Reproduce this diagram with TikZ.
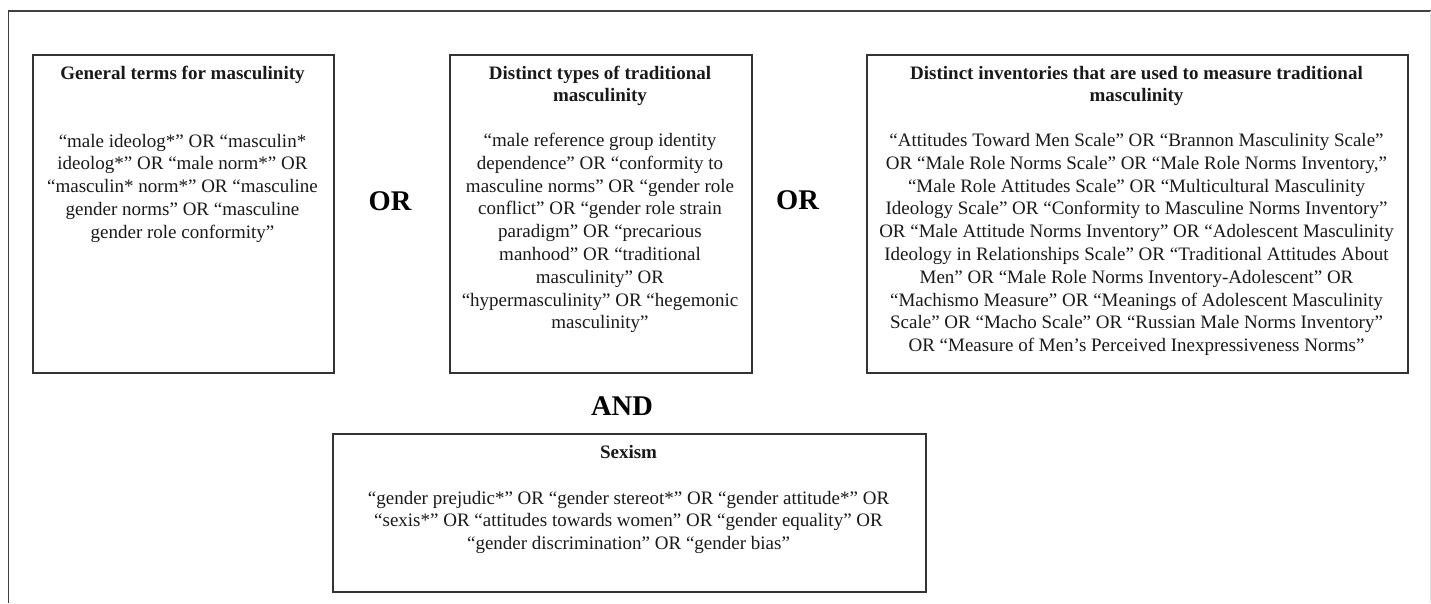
\documentclass[tikz,border=0pt]{standalone}
\usepackage{fontspec}
\setmainfont{Liberation Serif}
\begin{document}
\begin{tikzpicture}[x=1pt,y=-1pt,
  box/.style={draw=black!80, line width=1.6pt, anchor=north west, inner sep=0pt},
  txt/.style={align=center, anchor=base, inner sep=0pt, text=black!90,
    font=\fontsize{19}{22.8}\selectfont},
  ttl/.style={txt, font=\fontsize{19}{22.8}\selectfont\bfseries},
  op/.style={anchor=base, inner sep=0pt, text=black, font=\fontsize{28.5}{32}\selectfont\bfseries}]
\useasboundingbox (0,0) rectangle (1431,603);
% outer frame
\coordinate (fbl) at (8.5,603);
\coordinate (ftl) at (8.5,11);
\coordinate (ftr) at (1431,11);
\draw[black!75, line width=1.8pt] (fbl) -- (ftl) -- (ftr);
\draw[black!12, line width=1pt] (1430.5,11) -- (1430.5,603);
% boxes
\node[box, minimum width=301pt, minimum height=318pt] (b1) at (32,54) {};
\node[box, minimum width=302pt, minimum height=318pt] (b2) at (449,54) {};
\node[box, minimum width=541pt, minimum height=318pt] (b3) at (866,54) {};
\node[box, minimum width=593pt, minimum height=158pt] (b4) at (332,433) {};
% titles (anchor = baseline of last line)
\node[ttl] (t1) at (182.5,79) {General terms for masculinity};
\node[ttl] (t2) at (600,101.8) {Distinct types of traditional\\masculinity};
\node[ttl] (t3) at (1136.5,101.8) {Distinct inventories that are used to measure traditional\\masculinity};
\node[ttl] (t4) at (628.5,458) {Sexism};
% bodies (anchor = baseline of last line)
\node[txt] (c1) at (182.5,238.2) {“male ideolog*” OR “masculin*\\ideolog*” OR “male norm*” OR\\“masculin* norm*” OR “masculine\\gender norms” OR “masculine\\gender role conformity”};
\node[txt] (c2) at (600,328.9) {“male reference group identity\\dependence” OR “conformity to\\masculine norms” OR “gender role\\conflict” OR “gender role strain\\paradigm” OR “precarious\\manhood” OR “traditional\\masculinity” OR\\“hypermasculinity” OR “hegemonic\\masculinity”};
\node[txt] (c3) at (1136.5,351.7) {“Attitudes Toward Men Scale” OR “Brannon Masculinity Scale”\\OR “Male Role Norms Scale” OR “Male Role Norms Inventory,”\\“Male Role Attitudes Scale” OR “Multicultural Masculinity\\Ideology Scale” OR “Conformity to Masculine Norms Inventory”\\OR “Male Attitude Norms Inventory” OR “Adolescent Masculinity\\Ideology in Relationships Scale” OR “Traditional Attitudes About\\Men” OR “Male Role Norms Inventory-Adolescent” OR\\“Machismo Measure” OR “Meanings of Adolescent Masculinity\\Scale” OR “Macho Scale” OR “Russian Male Norms Inventory”\\OR “Measure of Men’s Perceived Inexpressiveness Norms”};
\node[txt] (c4) at (628.5,549.6) {“gender prejudic*” OR “gender stereot*” OR “gender attitude*” OR\\“sexis*” OR “attitudes towards women” OR “gender equality” OR\\“gender discrimination” OR “gender bias”};
% operators
\node[op] (or1) at (390,210) {OR};
\node[op] (or2) at (797.5,209.5) {OR};
\node[op] (and) at (622,415) {AND};
\end{tikzpicture}
\end{document}
